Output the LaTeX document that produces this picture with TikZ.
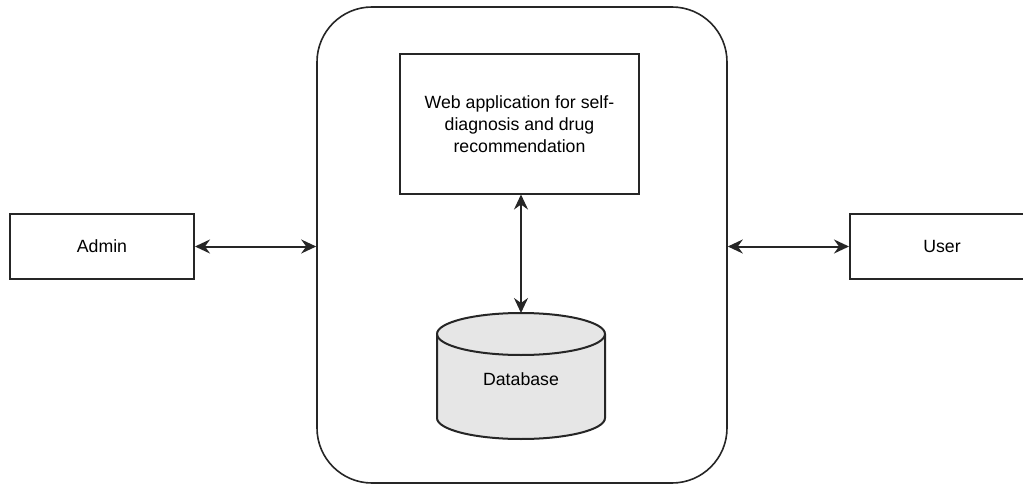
\documentclass[tikz,border=0pt]{standalone}
\usepackage{fontspec}
\setmainfont{Liberation Sans}
\usetikzlibrary{arrows.meta}
\definecolor{dbgray}{HTML}{E6E6E6}
\begin{document}
\begin{tikzpicture}[x=1pt,y=-1pt,
  box/.style={draw=black!85, line width=2pt, fill=white, inner sep=0pt,
    font=\fontsize{17.7}{22}\selectfont, align=center},
  sysbox/.style={draw=black!85, line width=1.6pt, rounded corners=55pt, inner sep=0pt},
  link/.style={line width=2pt, draw=black!85,
    {Stealth[length=15pt,width=14pt,inset=5pt]}-{Stealth[length=15pt,width=14pt,inset=5pt]}},
  lbl/.style={font=\fontsize{17.7}{22}\selectfont, inner sep=0pt}]
\useasboundingbox (0,0) rectangle (1023,484);
\fill[white] (0,0) rectangle (1023,484);
\node[sysbox, minimum width=410pt, minimum height=476pt] (sys) at (522,245) {};
\node[box, minimum width=184pt, minimum height=65pt] (admin) at (102,246.5) {Admin};
\node[box, minimum width=184pt, minimum height=65pt] (user) at (942,246.5) {User};
\node[box, minimum width=239pt, minimum height=139pt] (web) at (519.5,124)
  {Web application for self-\\diagnosis and drug\\recommendation};
% database cylinder
\draw[line width=2pt, draw=black!85, fill=dbgray]
  (437,334) -- (437,418) arc[start angle=180, end angle=360, x radius=84pt, y radius=21pt]
  -- (605,334) arc[start angle=0, end angle=180, x radius=84pt, y radius=21pt] -- cycle;
\draw[line width=2pt, draw=black!85]
  (437,334) arc[start angle=180, end angle=360, x radius=84pt, y radius=21pt];
\coordinate (dbtop) at (521,313);
\node[lbl] (db) at (521,379) {Database};
% connectors
\draw[link] (admin.east) -- (admin.east -| sys.west);
\draw[link] (user.west -| sys.east) -- (user.west);
\draw[link] (web.south -| dbtop) -- (dbtop);
\end{tikzpicture}
\end{document}
